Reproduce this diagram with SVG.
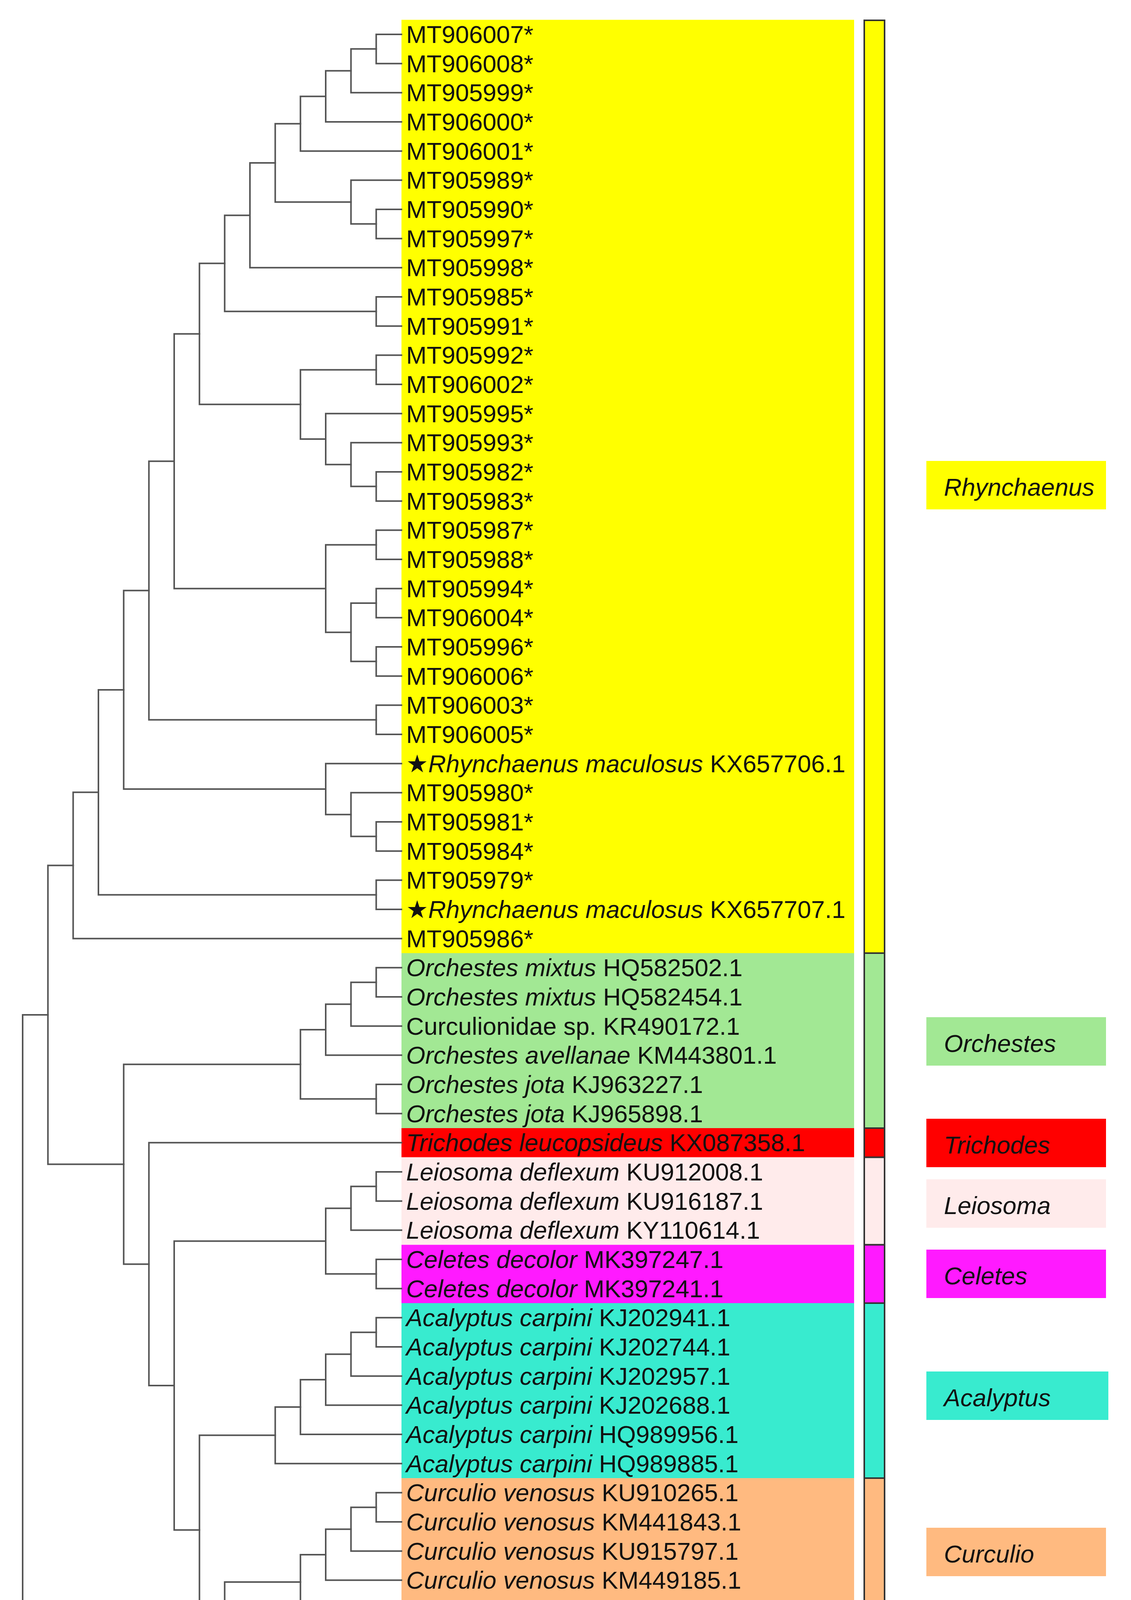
<svg xmlns="http://www.w3.org/2000/svg" width="2896" height="4816" viewBox="0 0 2896 4816">
<style>
.t{font-family:"Liberation Sans",Arial,"DejaVu Sans",sans-serif;font-size:63px;fill:#111}
.i{font-style:italic}
.br{fill:none;stroke:#555;stroke-width:4;stroke-linecap:square}
.seg{stroke:#333;stroke-width:4}
</style>
<rect width="2896" height="4816" fill="#fff"/>
<g id="bands">
<rect x="1028" y="50.7" width="1159" height="2389.3" fill="#FFFF00"/>
<rect x="1028" y="2440" width="1159" height="448" fill="#A2E894"/>
<rect x="1028" y="2888" width="1159" height="74.7" fill="#FF0000"/>
<rect x="1028" y="2962.7" width="1159" height="224" fill="#FFEBEB"/>
<rect x="1028" y="3186.7" width="1159" height="149.3" fill="#FF1AFF"/>
<rect x="1028" y="3336" width="1159" height="448" fill="#38EBCF"/>
<rect x="1028" y="3784" width="1159" height="373.3" fill="#FFBA80"/>
<rect x="1028" y="4157.3" width="1159" height="522.7" fill="#BDBDC1"/>
<rect x="1028" y="4680" width="1159" height="74.7" fill="#3D5CFF"/>
</g>
<g id="sidebar">
<rect class="seg" x="2213" y="52" width="52" height="2388" fill="#FFFF00"/>
<rect class="seg" x="2213" y="2440" width="52" height="448" fill="#A2E894"/>
<rect class="seg" x="2213" y="2888" width="52" height="74.7" fill="#FF0000"/>
<rect class="seg" x="2213" y="2962.7" width="52" height="224" fill="#FFEBEB"/>
<rect class="seg" x="2213" y="3186.7" width="52" height="149.3" fill="#FF1AFF"/>
<rect class="seg" x="2213" y="3336" width="52" height="448" fill="#38EBCF"/>
<rect class="seg" x="2213" y="3784" width="52" height="373.3" fill="#FFBA80"/>
<rect class="seg" x="2213" y="4157.3" width="52" height="522.7" fill="#BDBDC1"/>
<rect class="seg" x="2213" y="4680" width="52" height="74" fill="#3D5CFF"/>
</g>
<g id="connectors" class="br">
<path class="br" d="M1028 88 H963.3 V162.7 H1028"/>
<path class="br" d="M963.3 125.3 H898.7 V237.3 H1028"/>
<path class="br" d="M898.7 181.3 H834 V312 H1028"/>
<path class="br" d="M834 246.7 H769.3 V386.7 H1028"/>
<path class="br" d="M1028 536 H963.3 V610.7 H1028"/>
<path class="br" d="M1028 461.3 H898.7 V573.3 H963.3"/>
<path class="br" d="M769.3 316.7 H704.7 V517.3 H898.7"/>
<path class="br" d="M704.7 417 H640 V685.3 H1028"/>
<path class="br" d="M1028 760 H963.3 V834.7 H1028"/>
<path class="br" d="M640 551.2 H575.3 V797.3 H963.3"/>
<path class="br" d="M1028 909.3 H963.3 V984 H1028"/>
<path class="br" d="M1028 1208 H963.3 V1282.7 H1028"/>
<path class="br" d="M1028 1133.3 H898.7 V1245.3 H963.3"/>
<path class="br" d="M1028 1058.7 H834 V1189.3 H898.7"/>
<path class="br" d="M963.3 946.7 H769.3 V1124 H834"/>
<path class="br" d="M575.3 674.3 H510.7 V1035.3 H769.3"/>
<path class="br" d="M1028 1357.3 H963.3 V1432 H1028"/>
<path class="br" d="M1028 1506.7 H963.3 V1581.3 H1028"/>
<path class="br" d="M1028 1656 H963.3 V1730.7 H1028"/>
<path class="br" d="M963.3 1544 H898.7 V1693.3 H963.3"/>
<path class="br" d="M963.3 1394.7 H834 V1618.7 H898.7"/>
<path class="br" d="M510.7 854.8 H446 V1506.7 H834"/>
<path class="br" d="M1028 1805.3 H963.3 V1880 H1028"/>
<path class="br" d="M446 1180.7 H381.3 V1842.7 H963.3"/>
<path class="br" d="M1028 2104 H963.3 V2178.7 H1028"/>
<path class="br" d="M1028 2029.3 H898.7 V2141.3 H963.3"/>
<path class="br" d="M1028 1954.7 H834 V2085.3 H898.7"/>
<path class="br" d="M381.3 1511.7 H316.7 V2020 H834"/>
<path class="br" d="M1028 2253.3 H963.3 V2328 H1028"/>
<path class="br" d="M316.7 1765.9 H252 V2290.7 H963.3"/>
<path class="br" d="M252 2028.3 H187.3 V2402.7 H1028"/>
<path class="br" d="M1028 2477.3 H963.3 V2552 H1028"/>
<path class="br" d="M963.3 2514.7 H898.7 V2626.7 H1028"/>
<path class="br" d="M898.7 2570.7 H834 V2701.3 H1028"/>
<path class="br" d="M1028 2776 H963.3 V2850.7 H1028"/>
<path class="br" d="M834 2636 H769.3 V2813.3 H963.3"/>
<path class="br" d="M1028 3000 H963.3 V3074.7 H1028"/>
<path class="br" d="M963.3 3037.3 H898.7 V3149.3 H1028"/>
<path class="br" d="M1028 3224 H963.3 V3298.7 H1028"/>
<path class="br" d="M898.7 3093.3 H834 V3261.3 H963.3"/>
<path class="br" d="M1028 3373.3 H963.3 V3448 H1028"/>
<path class="br" d="M963.3 3410.7 H898.7 V3522.7 H1028"/>
<path class="br" d="M898.7 3466.7 H834 V3597.3 H1028"/>
<path class="br" d="M834 3532 H769.3 V3672 H1028"/>
<path class="br" d="M769.3 3602 H704.7 V3746.7 H1028"/>
<path class="br" d="M1028 3821.3 H963.3 V3896 H1028"/>
<path class="br" d="M963.3 3858.7 H898.7 V3970.7 H1028"/>
<path class="br" d="M898.7 3914.7 H834 V4045.3 H1028"/>
<path class="br" d="M834 3980 H769.3 V4120 H1028"/>
<path class="br" d="M1028 4568 H963.3 V4642.7 H1028"/>
<path class="br" d="M1028 4493.3 H898.7 V4605.3 H963.3"/>
<path class="br" d="M1028 4418.7 H834 V4549.3 H898.7"/>
<path class="br" d="M1028 4344 H769.3 V4484 H834"/>
<path class="br" d="M1028 4269.3 H704.7 V4414 H769.3"/>
<path class="br" d="M1028 4194.7 H640 V4341.7 H704.7"/>
<path class="br" d="M769.3 4050 H575.3 V4268.2 H640"/>
<path class="br" d="M704.7 3674.3 H510.7 V4159.1 H575.3"/>
<path class="br" d="M834 3177.3 H446 V3916.7 H510.7"/>
<path class="br" d="M1028 2925.3 H381.3 V3547 H446"/>
<path class="br" d="M769.3 2724.7 H316.7 V3236.2 H381.3"/>
<path class="br" d="M187.3 2215.5 H122.7 V2980.4 H316.7"/>
<path class="br" d="M122.7 2597.9 H58 V4717.3 H1028"/>
</g>
<g id="labels" class="t">
<text class="t" x="1040" y="110">MT906007*</text>
<text class="t" x="1040" y="184.7">MT906008*</text>
<text class="t" x="1040" y="259.3">MT905999*</text>
<text class="t" x="1040" y="334">MT906000*</text>
<text class="t" x="1040" y="408.7">MT906001*</text>
<text class="t" x="1040" y="483.3">MT905989*</text>
<text class="t" x="1040" y="558">MT905990*</text>
<text class="t" x="1040" y="632.7">MT905997*</text>
<text class="t" x="1040" y="707.3">MT905998*</text>
<text class="t" x="1040" y="782">MT905985*</text>
<text class="t" x="1040" y="856.7">MT905991*</text>
<text class="t" x="1040" y="931.3">MT905992*</text>
<text class="t" x="1040" y="1006">MT906002*</text>
<text class="t" x="1040" y="1080.7">MT905995*</text>
<text class="t" x="1040" y="1155.3">MT905993*</text>
<text class="t" x="1040" y="1230">MT905982*</text>
<text class="t" x="1040" y="1304.7">MT905983*</text>
<text class="t" x="1040" y="1379.3">MT905987*</text>
<text class="t" x="1040" y="1454">MT905988*</text>
<text class="t" x="1040" y="1528.7">MT905994*</text>
<text class="t" x="1040" y="1603.3">MT906004*</text>
<text class="t" x="1040" y="1678">MT905996*</text>
<text class="t" x="1040" y="1752.7">MT906006*</text>
<text class="t" x="1040" y="1827.3">MT906003*</text>
<text class="t" x="1040" y="1902">MT906005*</text>
<text class="t" x="1040" y="1976.7">★<tspan class="i">Rhynchaenus maculosus</tspan> KX657706.1</text>
<text class="t" x="1040" y="2051.3">MT905980*</text>
<text class="t" x="1040" y="2126">MT905981*</text>
<text class="t" x="1040" y="2200.7">MT905984*</text>
<text class="t" x="1040" y="2275.3">MT905979*</text>
<text class="t" x="1040" y="2350">★<tspan class="i">Rhynchaenus maculosus</tspan> KX657707.1</text>
<text class="t" x="1040" y="2424.7">MT905986*</text>
<text class="t" x="1040" y="2499.3"><tspan class="i">Orchestes mixtus</tspan> HQ582502.1</text>
<text class="t" x="1040" y="2574"><tspan class="i">Orchestes mixtus</tspan> HQ582454.1</text>
<text class="t" x="1040" y="2648.7">Curculionidae sp. KR490172.1</text>
<text class="t" x="1040" y="2723.3"><tspan class="i">Orchestes avellanae</tspan> KM443801.1</text>
<text class="t" x="1040" y="2798"><tspan class="i">Orchestes jota</tspan> KJ963227.1</text>
<text class="t" x="1040" y="2872.7"><tspan class="i">Orchestes jota</tspan> KJ965898.1</text>
<text class="t" x="1040" y="2947.3"><tspan class="i">Trichodes leucopsideus</tspan> KX087358.1</text>
<text class="t" x="1040" y="3022"><tspan class="i">Leiosoma deflexum</tspan> KU912008.1</text>
<text class="t" x="1040" y="3096.7"><tspan class="i">Leiosoma deflexum</tspan> KU916187.1</text>
<text class="t" x="1040" y="3171.3"><tspan class="i">Leiosoma deflexum</tspan> KY110614.1</text>
<text class="t" x="1040" y="3246"><tspan class="i">Celetes decolor</tspan> MK397247.1</text>
<text class="t" x="1040" y="3320.7"><tspan class="i">Celetes decolor</tspan> MK397241.1</text>
<text class="t" x="1040" y="3395.3"><tspan class="i">Acalyptus carpini</tspan> KJ202941.1</text>
<text class="t" x="1040" y="3470"><tspan class="i">Acalyptus carpini</tspan> KJ202744.1</text>
<text class="t" x="1040" y="3544.7"><tspan class="i">Acalyptus carpini</tspan> KJ202957.1</text>
<text class="t" x="1040" y="3619.3"><tspan class="i">Acalyptus carpini</tspan> KJ202688.1</text>
<text class="t" x="1040" y="3694"><tspan class="i">Acalyptus carpini</tspan> HQ989956.1</text>
<text class="t" x="1040" y="3768.7"><tspan class="i">Acalyptus carpini</tspan> HQ989885.1</text>
<text class="t" x="1040" y="3843.3"><tspan class="i">Curculio venosus</tspan> KU910265.1</text>
<text class="t" x="1040" y="3918"><tspan class="i">Curculio venosus</tspan> KM441843.1</text>
<text class="t" x="1040" y="3992.7"><tspan class="i">Curculio venosus</tspan> KU915797.1</text>
<text class="t" x="1040" y="4067.3"><tspan class="i">Curculio venosus</tspan> KM449185.1</text>
<text class="t" x="1040" y="4142"><tspan class="i">Curculio sulcatulus</tspan> MG057183.1</text>
<text class="t" x="1040" y="4216.7"><tspan class="i">Baris imberbis</tspan> HQ944365.1</text>
<text class="t" x="1040" y="4291.3">Curculionidae sp. JF889079.1</text>
<text class="t" x="1040" y="4366">Curculionidae sp. JF889075.1</text>
<text class="t" x="1040" y="4440.7"><tspan class="i">Baris imberbis</tspan> HM398900.1</text>
<text class="t" x="1040" y="4515.3">Curculionidae sp. JF889077.1</text>
<text class="t" x="1040" y="4590"><tspan class="i">Baris imberbis</tspan> HM398898.1</text>
<text class="t" x="1040" y="4664.7"><tspan class="i">Baris imberbis</tspan> HM398901.1</text>
<text class="t" x="1040" y="4739.3"><tspan class="i">Rhynchophorus palmarum</tspan> HM043666.1</text>
</g>
<g id="legend-rhynchaenus"><rect x="2372" y="1180" width="460" height="124" fill="#FFFF00"/><text class="t i" x="2417" y="1269">Rhynchaenus</text></g>
<g id="legend-orchestes"><rect x="2372" y="2604" width="460" height="124" fill="#A2E894"/><text class="t i" x="2417" y="2693">Orchestes</text></g>
<g id="legend-trichodes"><rect x="2372" y="2864" width="460" height="124" fill="#FF0000"/><text class="t i" x="2417" y="2953">Trichodes</text></g>
<g id="legend-leiosoma"><rect x="2372" y="3019" width="460" height="124" fill="#FFEBEB"/><text class="t i" x="2417" y="3108">Leiosoma</text></g>
<g id="legend-celetes"><rect x="2372" y="3199" width="460" height="124" fill="#FF1AFF"/><text class="t i" x="2417" y="3288">Celetes</text></g>
<g id="legend-acalyptus"><rect x="2372" y="3511" width="466" height="124" fill="#38EBCF"/><text class="t i" x="2417" y="3600">Acalyptus</text></g>
<g id="legend-curculio"><rect x="2372" y="3911" width="460" height="124" fill="#FFBA80"/><text class="t i" x="2417" y="4000">Curculio</text></g>
<g id="legend-baris"><rect x="2372" y="4365" width="460" height="124" fill="#BDBDC1"/><text class="t i" x="2417" y="4454">Baris</text></g>
<g id="legend-outgroup"><rect x="2372" y="4662" width="460" height="124" fill="#3D5CFF"/><text class="t i" x="2417" y="4751">Outgroup</text></g>
</svg>
